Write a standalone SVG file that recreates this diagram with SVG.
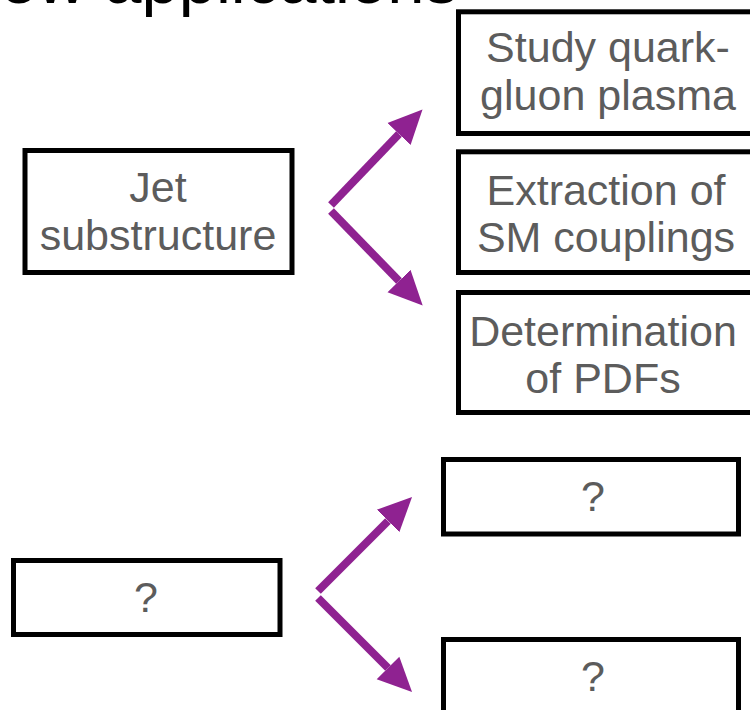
<svg xmlns="http://www.w3.org/2000/svg" width="750" height="710" viewBox="0 0 750 710">
  <style>
    .box { fill: #ffffff; stroke: #000000; stroke-width: 5; }
    .lbl { font-family: "Liberation Sans", Arial, Helvetica, sans-serif; font-size: 43px; fill: #5c5c5c; text-anchor: middle; }
    .title { font-family: "Liberation Sans", Arial, Helvetica, sans-serif; font-size: 67px; fill: #000000; text-anchor: end; }
    .arrow { stroke: #8f2291; stroke-width: 8; fill: none; stroke-linecap: butt; }
  </style>
  <defs>
    <marker id="head" markerUnits="userSpaceOnUse" markerWidth="36" markerHeight="34" refX="0" refY="17" orient="auto" viewBox="0 0 36 34">
      <path d="M0,1 L34,17 L0,33 Z" fill="#8f2291"/>
    </marker>
  </defs>
  <rect width="750" height="710" fill="#ffffff"/>

  <text class="title" x="458" y="3">New applications</text>

  <g id="jet-substructure">
    <rect class="box" x="25" y="150.5" width="267" height="122"/>
    <text class="lbl" x="158" y="202">Jet</text>
    <text class="lbl" x="158" y="250">substructure</text>
  </g>

  <g id="qgp">
    <rect class="box" x="458.5" y="11.8" width="310" height="121.7"/>
    <text class="lbl" x="608" y="62">Study quark-</text>
    <text class="lbl" x="608" y="110">gluon plasma</text>
  </g>

  <g id="sm-couplings">
    <rect class="box" x="458.5" y="151.8" width="310" height="120.7"/>
    <text class="lbl" x="606" y="205">Extraction of</text>
    <text class="lbl" x="606" y="252">SM couplings</text>
  </g>

  <g id="pdfs">
    <rect class="box" x="458.5" y="292.5" width="310" height="120"/>
    <text class="lbl" x="603" y="346">Determination</text>
    <text class="lbl" x="603" y="393">of PDFs</text>
  </g>

  <g id="unknown-source">
    <rect class="box" x="13.5" y="560.5" width="266.5" height="74"/>
    <text class="lbl" x="146" y="612">?</text>
  </g>

  <g id="unknown-top">
    <rect class="box" x="443.5" y="459.5" width="295" height="74.5"/>
    <text class="lbl" x="593" y="511">?</text>
  </g>

  <g id="unknown-bottom">
    <rect class="box" x="443.5" y="639.5" width="295" height="100"/>
    <text class="lbl" x="593" y="691">?</text>
  </g>

  <g id="connectors">
    <line class="arrow" x1="331" y1="205" x2="399" y2="134" marker-end="url(#head)"/>
    <line class="arrow" x1="331" y1="211" x2="399" y2="281" marker-end="url(#head)"/>
    <line class="arrow" x1="318" y1="591" x2="388" y2="521" marker-end="url(#head)"/>
    <line class="arrow" x1="318" y1="598" x2="388" y2="668" marker-end="url(#head)"/>
  </g>
</svg>
